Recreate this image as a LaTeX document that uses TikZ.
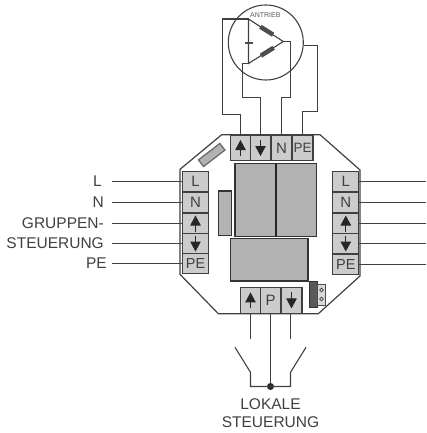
\documentclass[tikz,border=0pt]{standalone}
\usepackage{fontspec}
\setmainfont{Liberation Sans}
\usetikzlibrary{arrows.meta}

\begin{document}
\begin{tikzpicture}[
    x=1pt, y=-1pt,
    wire/.style={draw=black!75, line width=1.1pt},
    cell/.style={draw=black!75, line width=1.2pt, fill=black!20, inner sep=0pt,
        minimum width=26pt, minimum height=20.5pt, text=black!75,
        font=\fontsize{15}{16}\selectfont},
    topcell/.style={cell, minimum width=20.8pt, minimum height=25.5pt},
    pecell/.style={font=\fontsize{14.5}{15}\selectfont},
    arrowup/.style={path picture={\draw[black!85, line width=1pt, -{Triangle[length=10pt,width=10.5pt]}]
        ([yshift=-8pt]path picture bounding box.center) -- ([yshift=8pt]path picture bounding box.center);}},
    arrowdown/.style={path picture={\draw[black!85, line width=1pt, -{Triangle[length=10pt,width=10.5pt]}]
        ([yshift=8pt]path picture bounding box.center) -- ([yshift=-8pt]path picture bounding box.center);}},
    block/.style={draw=black!80, line width=1.2pt, fill=black!30, inner sep=0pt},
    part/.style={fill=black!70, inner sep=0pt},
    sig/.style={anchor=east, inner xsep=0pt, text=black!75, font=\fontsize{15.5}{17}\selectfont},
    caption/.style={text=black!75, inner sep=0pt, font=\fontsize{15.5}{17}\selectfont}
]
    \useasboundingbox (0,0) rectangle (426,433);
    % housing
    \draw[black!75, line width=1.2pt] (221.7,134.7) -- (320,134.7) -- (360,170) -- (360,276)
        -- (318.3,313.7) -- (218.3,313.7) -- (180,274.3) -- (180,169.3) -- cycle;
    % motor
    \node[draw=black!75, line width=1.1pt, circle, minimum size=75pt, inner sep=0pt] (motor) at (265.8,42.5) {};
    \node[text=black!65, inner sep=0pt, font=\fontsize{7}{8}\selectfont] (antrieb) at (265.3,15) {ANTRIEB};
    \coordinate (triA) at (248.5,19);
    \coordinate (triB) at (283.3,41.5);
    \coordinate (triC) at (248.5,63.5);
    \draw[wire] (triA) -- (triB) -- (triC) -- cycle;
    \node[part, rotate=-32, minimum width=15pt, minimum height=4.5pt] (coilA) at (266.7,30.7) {};
    \node[part, rotate=32, minimum width=15pt, minimum height=4.5pt] (coilB) at (267.3,51.7) {};
    \node[part, minimum width=8pt, minimum height=2.5pt] (cap) at (248.5,43) {};
    % top terminals
    \node[topcell, arrowup] (topU) at (240.5,148) {};
    \node[topcell, arrowdown] (topD) at (260.5,148) {};
    \node[topcell] (topN) at (281.5,148) {N};
    \node[topcell, pecell, font=\fontsize{13.5}{14}\selectfont] (topPE) at (302.5,148) {PE};
    \draw[wire] (topU.north) |- (222.5,114.5) |- (triA);
    \draw[wire] (topD.north) |- (242.5,97.5) |- (triC);
    \draw[wire] (topN.north) |- (290.5,97.5) |- (triB);
    \draw[wire] (topPE.north) |- (317.5,111.5) |- (motor.-5);
    % blocks
    \node[block, draw=black!60, rotate=37.6, minimum width=27pt, minimum height=8.4pt] (fuse) at (211.7,155) {};
    \node[block, minimum width=40.7pt, minimum height=73.4pt] (blockA) at (255.4,200) {};
    \node[block, minimum width=41pt, minimum height=73.4pt] (blockB) at (296.2,200) {};
    \draw[black!85, line width=2pt] (blockA.north east) -- (blockA.south east);
    \node[block, minimum width=13pt, minimum height=44.3pt] (blockC) at (224.8,213.2) {};
    \node[block, minimum width=77.3pt, minimum height=42.7pt] (blockD) at (269.4,259.7) {};
    \node[draw=black!80, fill=black!65, line width=.8pt, inner sep=0pt, minimum width=8pt, minimum height=25.6pt] (plug) at (313.3,294.5) {};
    \node[draw=black!70, fill=black!15, line width=.8pt, inner sep=0pt, minimum width=8.4pt, minimum height=21pt] (socket) at (321.5,294.5) {};
    \draw[black!75, line width=.8pt] (321.5,290) circle (1.9pt) (321.5,299) circle (1.9pt);
    % left terminals
    \node[cell] (leftL) at (195.5,181.5) {L};
    \node[cell] (leftN) at (195.5,202.5) {N};
    \node[cell, arrowup] (leftU) at (195.5,223.5) {};
    \node[cell, arrowdown] (leftD) at (195.5,243.5) {};
    \node[cell, pecell] (leftPE) at (195.5,263.5) {PE};
    % right terminals
    \node[cell] (rightL) at (345.8,181.5) {L};
    \node[cell] (rightN) at (345.8,202.5) {N};
    \node[cell, arrowup] (rightU) at (345.8,223.5) {};
    \node[cell, arrowdown] (rightD) at (345.8,243.5) {};
    \node[cell, pecell] (rightPE) at (345.8,264.5) {PE};
    % bottom terminals
    \node[topcell, arrowup] (botU) at (250.5,300.4) {};
    \node[topcell] (botP) at (270.5,300.4) {P};
    \node[topcell, arrowdown] (botD) at (291.5,300.4) {};
    % signals on the left
    \node[sig] (sigL) at (102,181.5) {L};
    \node[sig] (sigN) at (104,202.5) {N};
    \node[sig] (sigU) at (104,223.5) {GRUPPEN-};
    \node[sig] (sigD) at (104,243.5) {STEUERUNG};
    \node[sig] (sigPE) at (107,263.5) {PE};
    \draw[wire, shorten <=10pt] (sigL.east) -- (leftL.west);
    \draw[wire, shorten <=8pt] (sigN.east) -- (leftN.west);
    \draw[wire, shorten <=8pt] (sigU.east) -- (leftU.west);
    \draw[wire, shorten <=8pt] (sigD.east) -- (leftD.west);
    \draw[wire, shorten <=5pt] (sigPE.east) -- (leftPE.west);
    % free ends on the right
    \coordinate (outL) at (426,181.5);
    \coordinate (outN) at (426,202.5);
    \coordinate (outU) at (426,223.5);
    \coordinate (outD) at (426,243.5);
    \coordinate (outPE) at (426,264.5);
    \draw[wire] (rightL.east) -- (outL);
    \draw[wire] (rightN.east) -- (outN);
    \draw[wire] (rightU.east) -- (outU);
    \draw[wire] (rightD.east) -- (outD);
    \draw[wire] (rightPE.east) -- (outPE);
    % local switches
    \node[circle, fill=black!85, minimum size=7pt, inner sep=0pt] (joint) at (270.5,386.5) {};
    \coordinate (openL) at (250.5,339.3);
    \coordinate (openR) at (290.5,339.3);
    \draw[wire] (botU.south) -- (openL);
    \draw[wire] (openR |- botD.south) -- (openR);
    \draw[wire] (botP.south) -- (joint.north);
    \draw[wire] (235,347.3) -- (250.5,372.3) -- (250.5,386.5) -- (joint.center);
    \draw[wire] (306,347.3) -- (290.5,372.3) -- (290.5,386.5) -- (joint.center);
    \node[caption] (lokale) at (270.5,404) {LOKALE};
    \node[caption] (steuerung) at (270.5,422) {STEUERUNG};
\end{tikzpicture}
\end{document}
